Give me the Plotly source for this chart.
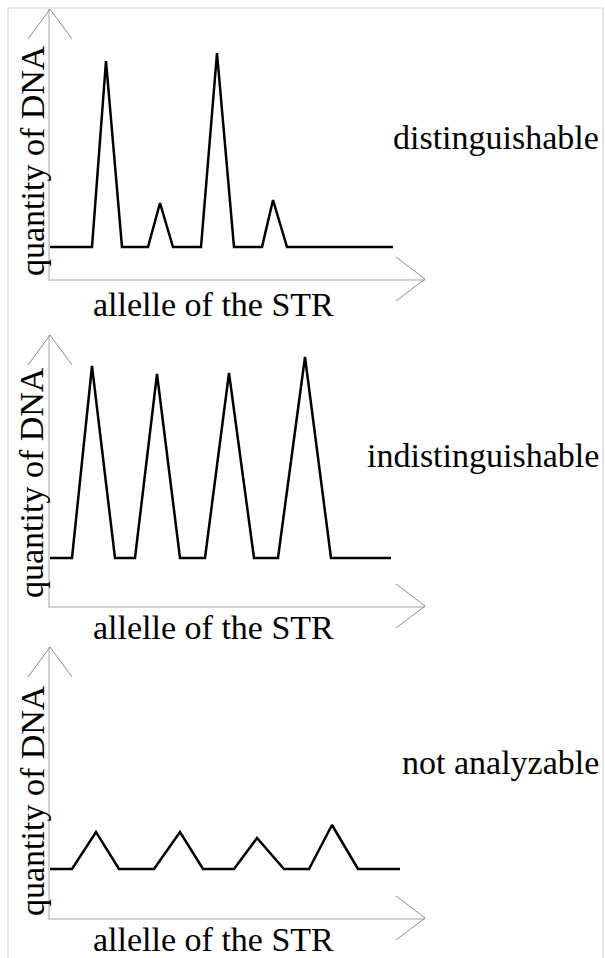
import plotly.graph_objects as go

W, H = 605, 958

# ---- data (x = allele position, y = quantity of DNA) ----
dist_x = [0, 42, 56, 72, 98, 110, 123, 151, 167, 184, 212, 223, 237, 343]
dist_y = [32, 32, 218, 32, 32, 76, 32, 32, 226, 32, 32, 79, 32, 32]

indist_x = [0, 22, 42, 65, 85, 107, 130, 155, 179, 204, 228, 255, 281, 341]
indist_y = [48, 48, 240, 48, 48, 232, 48, 48, 233, 48, 48, 249, 48, 48]

notan_x = [0, 22, 46, 69, 104, 130, 153, 184, 207, 234, 259, 282, 308, 350]
notan_y = [49, 49, 86, 49, 49, 86, 49, 49, 80, 49, 49, 93, 49, 49]

panel_labels = ["distinguishable", "indistinguishable", "not analyzable"]
x_title = "allelle of the STR"
y_title = "quantity of DNA"

# ---- layout geometry (pixels) ----
AX_LEFT, AX_RIGHT = 50, 425
panels = [  # (top apex y, x-axis y, right label baseline, x-label baseline, y-label centre)
    (9, 279, 149, 315, 161),
    (335, 606, 467, 638, 483),
    (647, 918, 773, 950, 801),
]
series = [(dist_x, dist_y), (indist_x, indist_y), (notan_x, notan_y)]

def px(x):
    return x / W

def py(y):
    return 1 - y / H

FONT = "Liberation Serif"
fig = go.Figure()
shapes = []
annotations = []
arrow_col = "#8c8c8c"
axis_col = "#d2d2d2"

for i, ((top, bot, lab_base, xl_base, yl_c), (xs, ys)) in enumerate(zip(panels, series)):
    n = "" if i == 0 else str(i + 1)
    fig.add_trace(go.Scatter(x=xs, y=ys, mode="lines",
                             line=dict(color="black", width=2.5),
                             xaxis="x" + n, yaxis="y" + n,
                             showlegend=False, hoverinfo="skip"))
    fig.update_layout(**{
        "xaxis" + n: dict(domain=[px(AX_LEFT), px(AX_RIGHT)], range=[0, AX_RIGHT - AX_LEFT],
                          showgrid=False, zeroline=False, showticklabels=False, ticks="",
                          showline=True, linecolor=axis_col, linewidth=1.5,
                          anchor="y" + n, fixedrange=True),
        "yaxis" + n: dict(domain=[py(bot), py(top)], range=[0, bot - top],
                          showgrid=False, zeroline=False, showticklabels=False, ticks="",
                          showline=True, linecolor=axis_col, linewidth=1.5,
                          anchor="x" + n, fixedrange=True),
    })
    # y-axis chevron
    shapes.append(dict(type="path", xref="paper", yref="paper",
                       path=f"M {px(AX_LEFT-22)} {py(top+30)} L {px(AX_LEFT)} {py(top)} L {px(AX_LEFT+22)} {py(top+30)}",
                       line=dict(color=arrow_col, width=1)))
    # x-axis chevron
    shapes.append(dict(type="path", xref="paper", yref="paper",
                       path=f"M {px(AX_RIGHT-29)} {py(bot-22)} L {px(AX_RIGHT)} {py(bot)} L {px(AX_RIGHT-29)} {py(bot+22)}",
                       line=dict(color=arrow_col, width=1)))
    # labels
    annotations.append(dict(text=y_title, textangle=-90, xref="paper", yref="paper",
                            x=px(32), y=py(yl_c), xanchor="center", yanchor="middle",
                            showarrow=False, font=dict(family=FONT, size=34, color="black")))
    annotations.append(dict(text=x_title, xref="paper", yref="paper",
                            x=px(213), y=py(xl_base - 11), xanchor="center", yanchor="middle",
                            showarrow=False, font=dict(family=FONT, size=34, color="black")))
    annotations.append(dict(text=panel_labels[i], xref="paper", yref="paper",
                            x=px(601), y=py(lab_base - 11), xanchor="right", yanchor="middle",
                            showarrow=False, font=dict(family=FONT, size=34, color="black")))

# outer frame
shapes.append(dict(type="rect", xref="paper", yref="paper",
                   x0=px(8), x1=px(603), y0=py(8), y1=-0.05,
                   line=dict(color="#d0d0d0", width=1)))

fig.update_layout(width=W, height=H, margin=dict(l=0, r=0, t=0, b=0),
                  paper_bgcolor="white", plot_bgcolor="white",
                  shapes=shapes, annotations=annotations)

fig.write_html("out.html", config={"displayModeBar": False},
               post_script="document.body.style.margin='0px';document.body.style.overflow='hidden';")
